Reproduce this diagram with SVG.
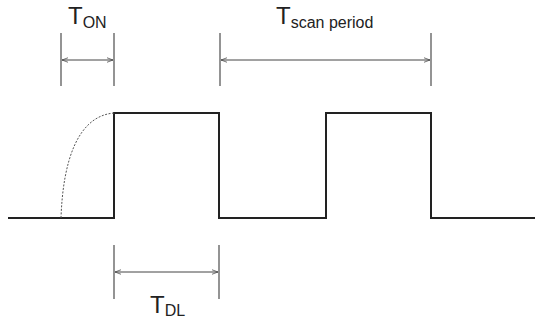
<svg xmlns="http://www.w3.org/2000/svg" width="535" height="323" viewBox="0 0 535 323">
<defs>
<style>
.tick{stroke:#707070;stroke-width:1.5;fill:none}
.dim{stroke:#444;stroke-width:1;fill:none}
.wave{stroke:#222;stroke-width:2;fill:none}
.rise{stroke:#555;stroke-width:1;fill:none;stroke-dasharray:2,1.5}
.lbl{font-family:"Liberation Sans",Arial,sans-serif;fill:#222}
</style>
<marker id="ah" viewBox="0 0 8 8" refX="8" refY="4" markerWidth="6" markerHeight="6" orient="auto-start-reverse" markerUnits="userSpaceOnUse">
<path d="M0,1 L8,4 L0,7" fill="none" stroke="#444" stroke-width="1"/>
</marker>
</defs>
<rect width="535" height="323" fill="#fff"/>
<g id="waveform">
<path class="wave" d="M8,218 H114 V113 H219 V218 H326 V113 H431 V218 H535"/>
<path class="rise" d="M61,218 C63,160 78,116 114,113"/>
</g>
<g id="connectors">
<line class="tick" x1="61" y1="33" x2="61" y2="86"/>
<line class="tick" x1="114" y1="33" x2="114" y2="86"/>
<line class="dim" x1="62" y1="60" x2="113" y2="60" marker-start="url(#ah)" marker-end="url(#ah)"/>
<line class="tick" x1="220" y1="33" x2="220" y2="86"/>
<line class="tick" x1="431" y1="33" x2="431" y2="86"/>
<line class="dim" x1="221" y1="60" x2="430" y2="60" marker-start="url(#ah)" marker-end="url(#ah)"/>
<line class="tick" x1="114" y1="245" x2="114" y2="299"/>
<line class="tick" x1="219" y1="245" x2="219" y2="299"/>
<line class="dim" x1="115" y1="272" x2="218" y2="272" marker-start="url(#ah)" marker-end="url(#ah)"/>
</g>
<g id="label-ton">
<text class="lbl" x="68" y="24" font-size="24">T<tspan font-size="16" dy="4">ON</tspan></text>
</g>
<g id="label-tscan">
<text class="lbl" x="276" y="24" font-size="24">T<tspan font-size="16" dy="4">scan period</tspan></text>
</g>
<g id="label-tdl">
<text class="lbl" x="150" y="313" font-size="24">T<tspan font-size="16" dy="3">DL</tspan></text>
</g>
</svg>
